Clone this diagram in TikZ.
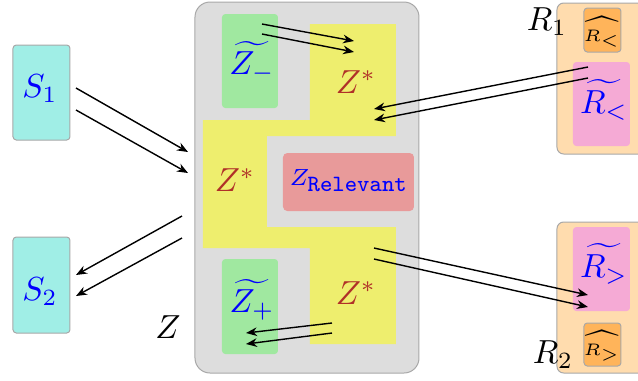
\documentclass[tikz,border=0pt]{standalone}
\usetikzlibrary{arrows.meta,fit}
\definecolor{zgray}{HTML}{DDDDDD}
\definecolor{bordergray}{HTML}{A8A8A8}
\definecolor{zyellow}{HTML}{EEEE6E}
\definecolor{zgreen}{HTML}{A0E8A0}
\definecolor{zred}{HTML}{E89A9A}
\definecolor{scyan}{HTML}{A0EEE6}
\definecolor{rlight}{HTML}{FFDCAE}
\definecolor{rorange}{HTML}{FFB45A}
\definecolor{rpink}{HTML}{F5AAD5}
\definecolor{zstar}{HTML}{B03028}
\begin{document}
\begin{tikzpicture}[x=0.3pt,y=-0.3pt,
  box/.style={inner sep=0pt, rounded corners=1pt},
  lbl/.style={inner sep=0pt},
  arr/.style={-{Stealth[length=3.3pt,width=2.6pt]}, line width=0.42pt}]
\useasboundingbox (0,0) rectangle (638,380);

% Z region
\node[box, fit={(195,2) (419,373)}, fill=zgray, draw=bordergray, line width=0.3pt, rounded corners=4.5pt] (Z) {};
\fill[zyellow] (310,24) -- (396,24) -- (396,136) -- (267,136) -- (267,227) -- (396,227) -- (396,344) -- (310,344) -- (310,248) -- (203,248) -- (203,120) -- (310,120) -- cycle;
\node[box, fit={(222,14) (278,108)}, fill=zgreen] (Zm) {};
\node[box, fit={(222,259) (278,354)}, fill=zgreen] (Zp) {};
\node[box, fit={(283,153) (414,211)}, fill=zred, rounded corners=1.3pt] (Zr) {};
\node[lbl, text=blue] (Zmlab) at (252,62) {$\widetilde{Z_-}$};
\node[lbl, text=blue] (Zplab) at (252,300) {$\widetilde{Z_+}$};
\node[lbl, text=blue, font=\scriptsize] (Zrlab) at (349,181) {$Z_{\texttt{Relevant}}$};
\node[lbl, text=zstar] (Zs1) at (356,82) {$Z^*$};
\node[lbl, text=zstar] (Zs2) at (235,180) {$Z^*$};
\node[lbl, text=zstar] (Zs3) at (356,293) {$Z^*$};
\node[lbl] (Zlab) at (168,327) {$Z$};

% S boxes
\node[box, fit={(13,45) (70,140)}, fill=scyan, draw=bordergray, line width=0.3pt] (S1) {};
\node[box, fit={(13,237) (70,333)}, fill=scyan, draw=bordergray, line width=0.3pt] (S2) {};
\node[lbl, text=blue] (S1lab) at (40,89) {$S_1$};
\node[lbl, text=blue] (S2lab) at (40,292) {$S_2$};

% R boxes
\node[box, fit={(557,3) (650,154)}, fill=rlight, draw=bordergray, line width=0.3pt, rounded corners=2pt] (R1) {};
\node[box, fit={(557,222) (650,373)}, fill=rlight, draw=bordergray, line width=0.3pt, rounded corners=2pt] (R2) {};
\node[box, fit={(584,8) (621,52)}, fill=rorange, draw=bordergray, line width=0.3pt] (R1h) {};
\node[box, fit={(573,62) (630,146)}, fill=rpink] (R1t) {};
\node[box, fit={(573,227) (630,311)}, fill=rpink] (R2t) {};
\node[box, fit={(584,323) (621,366)}, fill=rorange, draw=bordergray, line width=0.3pt] (R2h) {};
\node[lbl, font=\tiny] (R1hlab) at (602,32) {$\widehat{R_<}$};
\node[lbl, font=\tiny] (R2hlab) at (602,346) {$\widehat{R_>}$};
\node[lbl, text=blue] (R1tlab) at (604,100) {$\widetilde{R_<}$};
\node[lbl, text=blue] (R2tlab) at (604,264) {$\widetilde{R_>}$};
\node[lbl] (R1lab) at (547,22) {$R_1$};
\node[lbl] (R2lab) at (553,355) {$R_2$};

% arrow end points
\coordinate (a1s) at (76,88);   \coordinate (a1e) at (188,152);
\coordinate (a2s) at (76,110);  \coordinate (a2e) at (188,173);
\coordinate (b1s) at (182,216); \coordinate (b1e) at (76,275);
\coordinate (b2s) at (182,238); \coordinate (b2e) at (76,296);
\coordinate (c1s) at (262,24);  \coordinate (c1e) at (354,41);
\coordinate (c2s) at (262,34);  \coordinate (c2e) at (354,52);
\coordinate (d1s) at (588,67);  \coordinate (d1e) at (374,109);
\coordinate (d2s) at (588,78);  \coordinate (d2e) at (374,120);
\coordinate (e1s) at (374,248); \coordinate (e1e) at (588,295);
\coordinate (e2s) at (374,259); \coordinate (e2e) at (588,307);
\coordinate (f1s) at (332,323); \coordinate (f1e) at (246,333);
\coordinate (f2s) at (332,333); \coordinate (f2e) at (246,344);

\draw[arr] (a1s) -- (a1e);
\draw[arr] (a2s) -- (a2e);
\draw[arr] (b1s) -- (b1e);
\draw[arr] (b2s) -- (b2e);
\draw[arr] (c1s) -- (c1e);
\draw[arr] (c2s) -- (c2e);
\draw[arr] (d1s) -- (d1e);
\draw[arr] (d2s) -- (d2e);
\draw[arr] (e1s) -- (e1e);
\draw[arr] (e2s) -- (e2e);
\draw[arr] (f1s) -- (f1e);
\draw[arr] (f2s) -- (f2e);
\end{tikzpicture}
\end{document}
